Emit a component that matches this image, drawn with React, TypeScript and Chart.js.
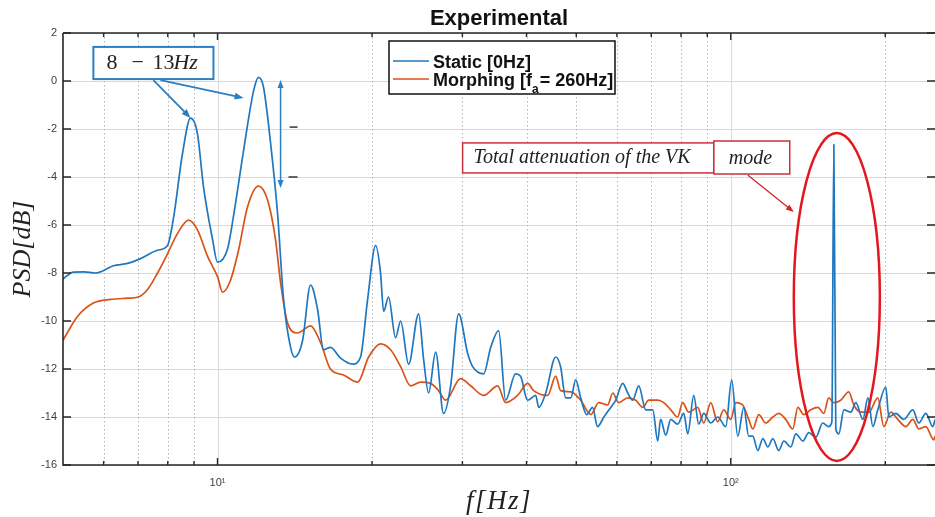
import React, { useEffect, useRef } from "react";
import { Chart, registerables } from "chart.js";

Chart.register(...registerables);

// ---------- data ----------
const staticFreq = [
  5.0, 5.24, 5.5, 5.78, 6.27, 6.68, 7.08, 7.64, 7.99, 8.21, 8.55, 8.86, 9.14, 9.39, 9.78, 10.0,
  10.46, 10.74, 11.24, 11.76, 12.02, 12.29, 12.69, 13.09, 13.45, 13.88, 14.13, 14.65, 15.18, 15.66,
  16.09, 16.6, 17.37, 18.34, 19.0, 19.61, 20.33, 20.78, 21.07, 21.54, 22.23, 22.74, 23.57, 24.65,
  25.21, 25.78, 26.61, 27.57, 28.46, 29.5, 30.72, 31.42, 33.01, 34.06, 35.3, 36.42, 38.08, 38.95,
  40.19, 41.69, 42.25, 43.6, 45.6, 46.6, 47.69, 48.8, 49.88, 51.0, 52.4, 53.8, 55.0, 56.6, 58.36,
  59.7, 61.59, 63.0, 64.4, 66.18, 68.3, 70.47, 72.07, 73.0, 74.7, 76.4, 78.8, 81.0, 82.45, 84.71,
  86.6, 88.6, 91.4, 94.3, 97.8, 100.4, 103.2, 106.0, 108.4, 110.4, 112.9, 115.5, 118.1, 120.8,
  124.0, 126.9, 130.9, 133.9, 138.2, 141.9, 146.4, 151.1, 155.2, 157.4, 158.8, 160.2, 162.4, 166.1,
  171.4, 175.3, 180.9, 185.0, 189.2, 193.4, 200.5, 203.2, 209.7, 217.3, 226.3, 232.5, 239.9, 247.6,
  250.0,
];
const staticPsd = [
  -8.25, -7.96, -7.95, -8.0, -7.7, -7.6, -7.4, -7.05, -6.85, -5.7, -3.0, -1.55, -2.2, -4.4, -6.6, -7.55,
  -7.0, -5.65, -2.9, -0.4, 0.15, -0.25, -2.6, -5.5, -9.1, -11.1, -11.5, -10.8, -8.5, -9.5,
  -11.2, -11.1, -11.55, -11.8, -11.5, -9.1, -6.85, -8.0, -9.6, -9.0, -10.7, -10.0, -11.8, -9.7,
  -11.6, -13.0, -11.3, -13.85, -12.7, -9.7, -11.35, -11.9, -12.2, -11.1, -10.4, -13.3, -12.2, -12.3,
  -13.3, -13.1, -13.6, -13.0, -11.5, -11.9, -13.2, -13.2, -12.45, -13.2, -13.9, -13.6, -14.4, -14.0, -13.6,
  -13.3, -12.6, -13.0, -13.3, -12.7, -13.7, -13.7, -15.0, -14.1, -14.75, -14.1, -14.3, -13.85, -14.7, -13.1,
  -14.3, -13.85, -14.25, -14.0, -14.4, -12.45, -14.8, -13.6, -14.8, -14.8, -15.4, -14.9, -15.25, -14.9,
  -15.4, -15.0, -15.25, -14.7, -15.0, -14.65, -14.85, -14.25, -14.4, -14.2, -2.65, -14.5, -14.7, -13.7,
  -13.8, -13.4, -14.1, -13.2, -14.4, -13.7, -12.75, -14.0, -13.85, -14.1, -13.7, -14.25, -13.85, -14.4,
  -14.1,
];

const morphFreq = [
  5.0, 5.34, 5.73, 6.19, 6.68, 7.01, 7.3, 7.64, 7.99, 8.36, 8.78, 9.14, 9.56, 10.0, 10.23, 10.6,
  10.99, 11.44, 12.02, 12.52, 12.97, 13.27, 13.7, 14.32, 15.18, 15.88, 16.6, 17.61, 18.75, 19.7,
  20.78, 21.74, 22.74, 23.78, 24.87, 26.01, 26.96, 27.82, 29.76, 31.13, 33.01, 35.14, 36.42, 38.43,
  40.19, 41.3, 43.99, 45.6, 46.6, 48.8, 51.0, 53.35, 55.3, 57.57, 58.9, 60.5, 63.0, 65.28, 67.38,
  69.2, 72.07, 74.04, 76.4, 78.8, 80.6, 82.8, 86.2, 88.6, 91.4, 94.3, 96.9, 100.0, 102.3, 105.5,
  108.4, 110.4, 113.4, 117.0, 120.8, 124.0, 128.0, 132.1, 135.1, 138.8, 143.2, 147.8, 151.8, 155.2,
  158.8, 163.8, 169.8, 173.7, 179.2, 185.8, 193.4, 198.7, 205.0, 211.5, 219.3, 226.3, 232.5, 239.9,
  248.7, 250.0,
];
const morphPsd = [
  -10.8, -9.8, -9.25, -9.1, -9.05, -9.0, -8.7, -8.0, -7.2, -6.35, -5.8, -6.2, -7.3, -8.15, -8.8, -8.3,
  -7.05, -5.25, -4.38, -4.96, -6.6, -8.4, -10.1, -10.5, -10.2, -10.9, -12.0, -12.25, -12.55, -11.5,
  -10.95, -11.2, -11.9, -12.7, -12.55, -12.6, -12.9, -13.3, -12.4, -12.7, -13.1, -12.7, -13.4, -13.1,
  -12.6, -12.9, -13.1, -12.3, -12.9, -12.95, -13.3, -13.9, -13.4, -13.5, -13.0, -13.4, -13.2, -13.3, -13.6,
  -13.3, -13.3, -13.4, -13.7, -14.0, -13.4, -13.8, -13.6, -14.25, -13.4, -14.2, -13.7, -14.1, -13.4, -13.5,
  -14.1, -14.5, -13.9, -14.25, -14.0, -13.85, -14.1, -14.5, -13.6, -13.9, -13.7, -13.6, -13.85, -13.2,
  -13.4, -13.3, -12.95, -13.5, -13.8, -13.8, -13.2, -14.4, -13.8, -14.1, -14.4, -14.1, -14.5, -14.4,
  -14.95, -14.8,
];

const seriesNames = ["Static [0Hz]", "Morphing [fa= 260Hz]"];
const seriesColors = ["#1f77bf", "#d95319"];
const yTickValues = [2, 0, -2, -4, -6, -8, -10, -12, -14, -16];
const xLabelValues = [10, 100];
const xLabelTexts = ["10\u00B9", "10\u00B2"];
const xMinorValues = [6, 7, 8, 9, 20, 30, 40, 50, 60, 70, 80, 90, 200];

const chartTitle = "Experimental";
const xTitle = "f[Hz]";
const yTitle = "PSD[dB]";
const bandLabel = ["8", "\u2212", "13", "Hz"];
const vkLabel = "Total attenuation of the VK";
const modeLabel = "mode";

// annotation anchors in data units (Hz, dB)
const bandBox = { f0: 5.73, f1: 9.82, v0: 1.42, v1: 0.08 };
const bandArrows = [
  { f0: 7.5, v0: 0.04, f1: 8.86, v1: -1.54 },
  { f0: 7.74, v0: 0.04, f1: 11.24, v1: -0.71 },
];
const dropArrow = { f: 13.27, v0: 0.04, v1: -4.46 };
const dashMarks = [
  { f0: 13.82, f1: 14.32, v: -1.92 },
  { f0: 13.75, f1: 14.32, v: -4.0 },
];
const vkBox = { f0: 30.03, f1: 92.7, v0: -2.58, v1: -3.83 };
const modeBox = { f0: 92.7, f1: 130.3, v0: -2.5, v1: -3.875 };
const vkArrow = { f0: 107.9, v0: -3.92, f1: 132.7, v1: -5.46 };
const vkEllipse = { f0: 132.7, f1: 195.2, v0: -2.17, v1: -15.83 };

function drawArrow(ctx: CanvasRenderingContext2D, x1: number, y1: number, x2: number, y2: number, head: number, hw: number) {
  const ang = Math.atan2(y2 - y1, x2 - x1);
  const c = Math.cos(ang);
  const s = Math.sin(ang);
  ctx.beginPath();
  ctx.moveTo(x1, y1);
  ctx.lineTo(x2 - c * head * 0.7, y2 - s * head * 0.7);
  ctx.stroke();
  ctx.beginPath();
  ctx.moveTo(x2, y2);
  ctx.lineTo(x2 - head * c + hw * s, y2 - head * s - hw * c);
  ctx.lineTo(x2 - head * c - hw * s, y2 - head * s + hw * c);
  ctx.closePath();
  ctx.fill();
}

const decorPlugin = {
  id: "decor",
  beforeDatasetsDraw(chart: any) {
    const { ctx, chartArea: a, scales } = chart;
    const x = scales.x;
    const y = scales.y;
    ctx.save();
    ctx.lineWidth = 1;
    ctx.strokeStyle = "#d9d9d9";
    for (const v of yTickValues) {
      const py = Math.round(y.getPixelForValue(v)) + 0.5;
      ctx.beginPath();
      ctx.moveTo(a.left, py);
      ctx.lineTo(a.right, py);
      ctx.stroke();
    }
    for (const f of xLabelValues) {
      const px = Math.round(x.getPixelForValue(f)) + 0.5;
      ctx.beginPath();
      ctx.moveTo(px, a.top);
      ctx.lineTo(px, a.bottom);
      ctx.stroke();
    }
    ctx.strokeStyle = "#b5b5b5";
    ctx.setLineDash([1.5, 2.5]);
    for (const f of xMinorValues) {
      const px = Math.round(x.getPixelForValue(f)) + 0.5;
      ctx.beginPath();
      ctx.moveTo(px, a.top);
      ctx.lineTo(px, a.bottom);
      ctx.stroke();
    }
    ctx.restore();
  },
  afterDatasetsDraw(chart: any) {
    const { ctx, chartArea: a, scales } = chart;
    const x = scales.x;
    const y = scales.y;
    const P = (f: number, v: number) => [x.getPixelForValue(f), y.getPixelForValue(v)];
    ctx.save();

    // axes box
    ctx.strokeStyle = "#262626";
    ctx.lineWidth = 1.6;
    ctx.beginPath();
    ctx.moveTo(a.left, a.top);
    ctx.lineTo(a.right, a.top);
    ctx.moveTo(a.left, a.top);
    ctx.lineTo(a.left, a.bottom);
    ctx.lineTo(a.right, a.bottom);
    ctx.stroke();

    // inward ticks
    ctx.lineWidth = 1.4;
    ctx.beginPath();
    for (const f of xLabelValues) {
      const px = x.getPixelForValue(f);
      ctx.moveTo(px, a.bottom);
      ctx.lineTo(px, a.bottom - 7);
      ctx.moveTo(px, a.top);
      ctx.lineTo(px, a.top + 7);
    }
    for (const f of xMinorValues) {
      const px = x.getPixelForValue(f);
      ctx.moveTo(px, a.bottom);
      ctx.lineTo(px, a.bottom - 4);
      ctx.moveTo(px, a.top);
      ctx.lineTo(px, a.top + 4);
    }
    for (const v of yTickValues) {
      const py = y.getPixelForValue(v);
      ctx.moveTo(a.left, py);
      ctx.lineTo(a.left + 8, py);
      ctx.moveTo(a.right, py);
      ctx.lineTo(a.right - 8, py);
    }
    ctx.stroke();

    // title
    ctx.fillStyle = "#111";
    ctx.font = "bold 22px 'Liberation Sans', Arial, sans-serif";
    ctx.textAlign = "center";
    ctx.textBaseline = "alphabetic";
    ctx.fillText(chartTitle, (a.left + a.right) / 2, 25);

    // axis titles
    ctx.fillStyle = "#222";
    ctx.font = "italic 27px 'Liberation Serif', 'Times New Roman', serif";
    (ctx as any).letterSpacing = "1.5px";
    ctx.fillText(xTitle, (a.left + a.right) / 2, 509);
    (ctx as any).letterSpacing = "0px";
    ctx.font = "italic 26px 'Liberation Serif', 'Times New Roman', serif";
    ctx.save();
    ctx.translate(30, (a.top + a.bottom) / 2);
    ctx.rotate(-Math.PI / 2);
    ctx.fillText(yTitle, 0, 0);
    ctx.restore();

    // legend
    const lx = a.left + 326;
    const ly = a.top + 8;
    ctx.fillStyle = "#fff";
    ctx.fillRect(lx, ly, 226, 53);
    ctx.strokeStyle = "#111";
    ctx.lineWidth = 1.5;
    ctx.strokeRect(lx, ly, 226, 53);
    ctx.lineWidth = 1.6;
    ctx.strokeStyle = seriesColors[0];
    ctx.beginPath();
    ctx.moveTo(lx + 4, ly + 20);
    ctx.lineTo(lx + 40, ly + 20);
    ctx.stroke();
    ctx.strokeStyle = seriesColors[1];
    ctx.beginPath();
    ctx.moveTo(lx + 4, ly + 38);
    ctx.lineTo(lx + 40, ly + 38);
    ctx.stroke();
    ctx.fillStyle = "#111";
    ctx.textAlign = "left";
    ctx.font = "bold 18px 'Liberation Sans', Arial, sans-serif";
    ctx.fillText(seriesNames[0], lx + 44, ly + 27);
    const m1 = "Morphing [f";
    ctx.fillText(m1, lx + 44, ly + 45);
    let cx = lx + 44 + ctx.measureText(m1).width;
    ctx.font = "bold 12px 'Liberation Sans', Arial, sans-serif";
    ctx.fillText("a", cx, ly + 52);
    cx += ctx.measureText("a").width + 1;
    ctx.font = "bold 18px 'Liberation Sans', Arial, sans-serif";
    ctx.fillText("= 260Hz]", cx, ly + 45);

    // 8-13Hz annotation
    const [bx0, by0] = P(bandBox.f0, bandBox.v0);
    const [bx1, by1] = P(bandBox.f1, bandBox.v1);
    ctx.fillStyle = "#fff";
    ctx.fillRect(bx0, by0, bx1 - bx0, by1 - by0);
    ctx.strokeStyle = "#2c7fc3";
    ctx.lineWidth = 2;
    ctx.strokeRect(bx0, by0, bx1 - bx0, by1 - by0);
    ctx.fillStyle = "#222";
    ctx.font = "22px 'Liberation Serif', 'Times New Roman', serif";
    ctx.fillText(bandLabel[0], bx0 + 13, by0 + 22);
    ctx.fillText(bandLabel[1], bx0 + 38, by0 + 22);
    ctx.fillText(bandLabel[2], bx0 + 59, by0 + 22);
    ctx.font = "italic 22px 'Liberation Serif', 'Times New Roman', serif";
    ctx.fillText(bandLabel[3], bx0 + 80, by0 + 22);

    ctx.strokeStyle = "#2c7fc3";
    ctx.fillStyle = "#2c7fc3";
    ctx.lineWidth = 1.8;
    for (const ar of bandArrows) {
      const [x1, y1] = P(ar.f0, ar.v0);
      const [x2, y2] = P(ar.f1, ar.v1);
      drawArrow(ctx, x1, y1, x2, y2, 9, 3.5);
    }
    {
      const [dx, dy0] = P(dropArrow.f, dropArrow.v0);
      const [, dy1] = P(dropArrow.f, dropArrow.v1);
      const mid = (dy0 + dy1) / 2;
      ctx.lineWidth = 1.5;
      drawArrow(ctx, dx, mid, dx, dy0, 8, 3);
      drawArrow(ctx, dx, mid, dx, dy1, 8, 3);
    }
    ctx.strokeStyle = "#333";
    ctx.lineWidth = 1.5;
    for (const d of dashMarks) {
      const [x1, py] = P(d.f0, d.v);
      const [x2] = P(d.f1, d.v);
      ctx.beginPath();
      ctx.moveTo(x1, py);
      ctx.lineTo(x2, py);
      ctx.stroke();
    }

    // VK annotation
    ctx.strokeStyle = "#c8323a";
    ctx.lineWidth = 1.5;
    ctx.font = "italic 20px 'Liberation Serif', 'Times New Roman', serif";
    {
      const [x0, y0] = P(vkBox.f0, vkBox.v0);
      const [x1, y1] = P(vkBox.f1, vkBox.v1);
      ctx.fillStyle = "#fff";
      ctx.fillRect(x0, y0, x1 - x0, y1 - y0);
      ctx.strokeRect(x0, y0, x1 - x0, y1 - y0);
      ctx.fillStyle = "#222";
      ctx.fillText(vkLabel, x0 + 11, y0 + 20);
    }
    {
      const [x0, y0] = P(modeBox.f0, modeBox.v0);
      const [x1, y1] = P(modeBox.f1, modeBox.v1);
      ctx.fillStyle = "#fff";
      ctx.fillRect(x0, y0, x1 - x0, y1 - y0);
      ctx.strokeRect(x0, y0, x1 - x0, y1 - y0);
      ctx.fillStyle = "#222";
      ctx.fillText(modeLabel, x0 + 15, y0 + 23);
    }
    {
      const [x1, y1] = P(vkArrow.f0, vkArrow.v0);
      const [x2, y2] = P(vkArrow.f1, vkArrow.v1);
      ctx.strokeStyle = "#d4232b";
      ctx.fillStyle = "#d4232b";
      ctx.lineWidth = 1.3;
      drawArrow(ctx, x1, y1, x2, y2, 8, 3);
    }
    {
      const [x0, y0] = P(vkEllipse.f0, vkEllipse.v0);
      const [x1, y1] = P(vkEllipse.f1, vkEllipse.v1);
      ctx.strokeStyle = "#e3171e";
      ctx.lineWidth = 2.5;
      ctx.beginPath();
      ctx.ellipse((x0 + x1) / 2, (y0 + y1) / 2, (x1 - x0) / 2, (y1 - y0) / 2, 0, 0, Math.PI * 2);
      ctx.stroke();
    }
    ctx.restore();
  },
};

export default function App() {
  const canvasRef = useRef<HTMLCanvasElement | null>(null);

  useEffect(() => {
    const canvas = canvasRef.current;
    if (!canvas) return;
    const chart = new Chart(canvas, {
      type: "line",
      data: {
        datasets: [
          {
            label: seriesNames[0],
            data: staticFreq.map((f, i) => ({ x: f, y: staticPsd[i] })),
            borderColor: seriesColors[0],
            borderWidth: 1.7,
            pointRadius: 0,
            fill: false,
            cubicInterpolationMode: "monotone",
          },
          {
            label: seriesNames[1],
            data: morphFreq.map((f, i) => ({ x: f, y: morphPsd[i] })),
            borderColor: seriesColors[1],
            borderWidth: 1.7,
            pointRadius: 0,
            fill: false,
            cubicInterpolationMode: "monotone",
          },
        ],
      },
      options: {
        responsive: false,
        animation: false,
        devicePixelRatio: 1,
        layout: { padding: { top: 33, left: 0, right: 0, bottom: 0 } },
        plugins: {
          legend: { display: false },
          title: { display: false },
          tooltip: { enabled: false },
        },
        events: [],
        scales: {
          x: {
            type: "logarithmic",
            min: 5,
            max: 250,
            grid: { display: false, drawTicks: false },
            border: { display: false },
            afterBuildTicks: (s: any) => {
              s.ticks = xLabelValues.map((v) => ({ value: v, major: true }));
            },
            afterFit: (s: any) => {
              s.height = 52;
            },
            ticks: {
              autoSkip: false,
              maxRotation: 0,
              padding: 11,
              color: "#404040",
              font: { family: "'Liberation Sans', Arial, sans-serif", size: 11 },
              callback: (v: any) => {
                const i = xLabelValues.indexOf(Number(v));
                return i >= 0 ? xLabelTexts[i] : "";
              },
            },
          },
          y: {
            type: "linear",
            min: -16,
            max: 2,
            grid: { display: false, drawTicks: false },
            border: { display: false },
            afterBuildTicks: (s: any) => {
              s.ticks = yTickValues.map((v) => ({ value: v }));
            },
            afterFit: (s: any) => {
              s.width = 63;
            },
            ticks: {
              padding: 6,
              color: "#404040",
              font: { family: "'Liberation Sans', Arial, sans-serif", size: 11 },
              callback: (v: any) => String(v),
            },
          },
        },
      },
      plugins: [decorPlugin],
    } as any);
    return () => chart.destroy();
  }, []);

  return (
    <div style={{ position: "fixed", left: 0, top: 0, width: 935, height: 517, background: "#fff" }}>
      <canvas ref={canvasRef} width={935} height={517} style={{ width: 935, height: 517, display: "block" }} />
    </div>
  );
}
